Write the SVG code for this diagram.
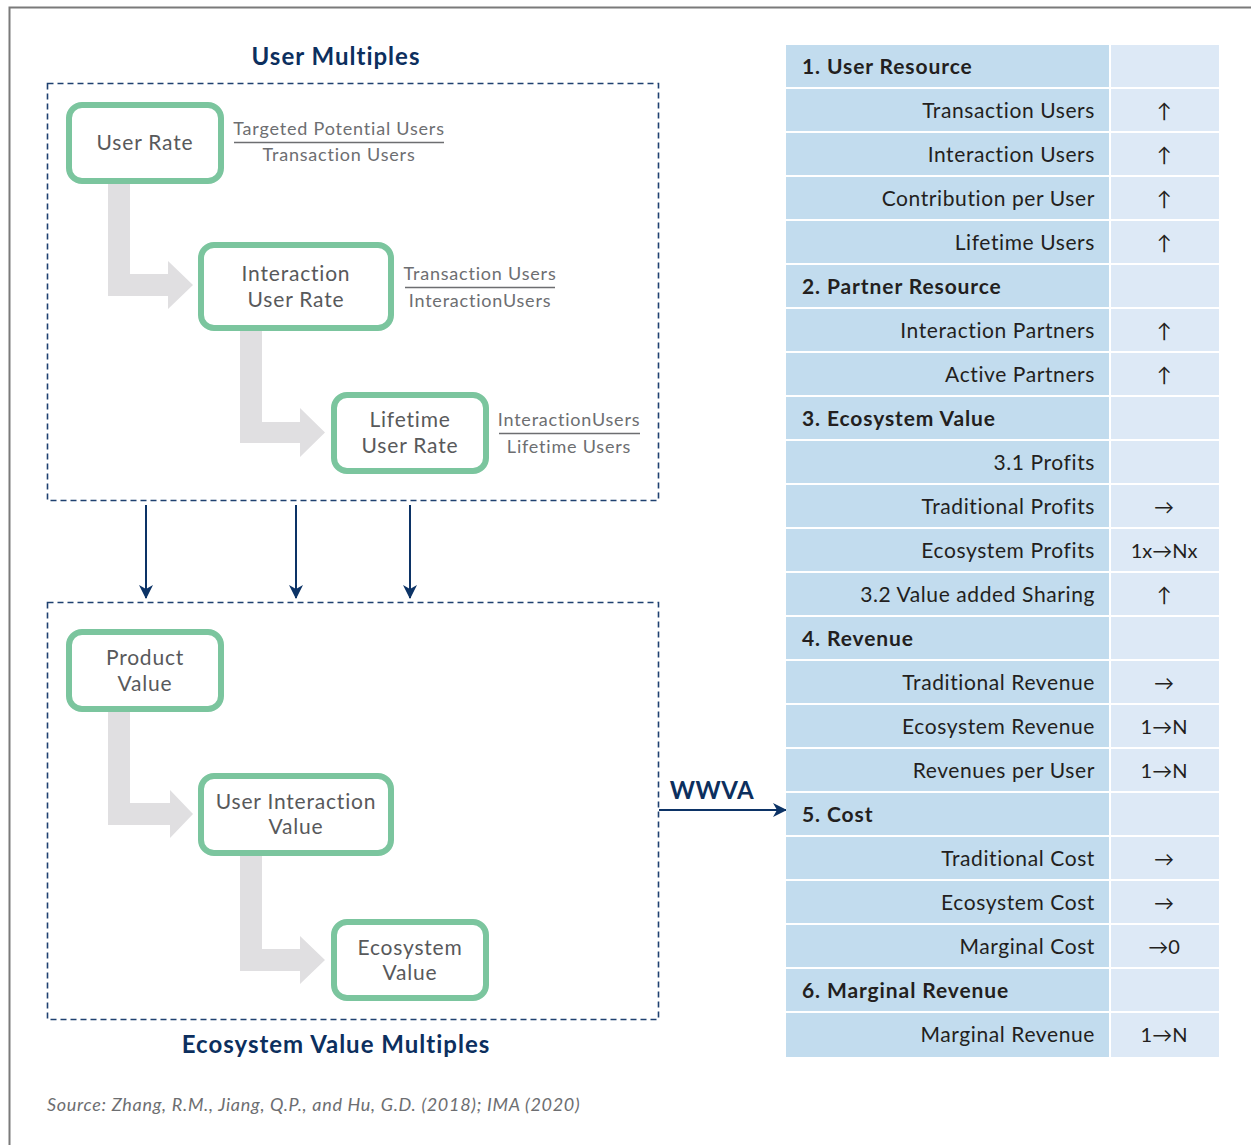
<svg xmlns="http://www.w3.org/2000/svg" width="1251" height="1145" viewBox="0 0 1251 1145">
  <style>
    .frame { fill: none; stroke: #7a7a7a; stroke-width: 2; }
    .zone { fill: none; stroke: #1f4170; stroke-width: 1.6; stroke-dasharray: 6 4; }
    .node { fill: #ffffff; stroke: #7bc59e; stroke-width: 6; }
    .ntext { font-family: Lato, "Liberation Sans", sans-serif; font-size: 21px; fill: #58595b; text-anchor: middle; letter-spacing: 0.8px; }
    .frac { font-family: Lato, "Liberation Sans", sans-serif; font-size: 18px; fill: #6d6e71; text-anchor: middle; letter-spacing: 0.8px; }
    .fline { stroke: #6d6e71; stroke-width: 1.4; }
    .elbow { fill: #e0dfe1; }
    .title { font-family: Lato, "Liberation Sans", sans-serif; font-size: 24px; font-weight: bold; fill: #0c2f5e; text-anchor: middle; letter-spacing: 1px; }
    .link { stroke: #0c3366; stroke-width: 2; fill: none; }
    .cellL { fill: #c2dcee; }
    .cellR { fill: #dde9f6; }
    .head { font-family: Lato, "Liberation Sans", sans-serif; font-size: 21px; font-weight: bold; fill: #231f20; letter-spacing: 0.9px; }
    .item { font-family: Lato, "Liberation Sans", sans-serif; font-size: 21px; fill: #231f20; text-anchor: end; letter-spacing: 0.6px; }
    .val { font-family: Lato, "Liberation Sans", sans-serif; font-size: 20px; fill: #231f20; text-anchor: middle; }
    .src { font-family: Lato, "Liberation Sans", sans-serif; font-size: 18px; font-style: italic; fill: #6d6e71; letter-spacing: 0.7px; }
  </style>
  <defs>
    <marker id="navyHead" markerWidth="14" markerHeight="16" refX="13" refY="8" orient="auto" markerUnits="userSpaceOnUse">
      <path d="M0,1 L14,8 L0,15 L4,8 Z" fill="#0c3366"/>
    </marker>
  </defs>

  <rect width="1251" height="1145" fill="#ffffff"/>
  <!-- outer frame -->
  <path class="frame" d="M1251,7.5 H9.5 V1145"/>

  <!-- grouping zones -->
  <rect class="zone" x="47.5" y="83.5" width="611" height="417"/>
  <rect class="zone" x="47.5" y="602.5" width="611" height="417"/>
  <text class="title" x="336" y="65">User Multiples</text>
  <text class="title" x="336" y="1053">Ecosystem Value Multiples</text>

  <!-- gray elbow arrows -->
  <g id="elbows">
    <polygon class="elbow" points="108,184 130,184 130,274 168,274 168,261 193,285 168,309 168,296 108,296"/>
    <polygon class="elbow" points="240,331 262,331 262,422 300,422 300,408 325,432.5 300,457 300,443 240,443"/>
    <polygon class="elbow" points="108,712 130,712 130,803 170,803 170,790 193,814 170,838 170,825 108,825"/>
    <polygon class="elbow" points="240,856 262,856 262,949 300,949 300,936 325,960 300,984 300,971 240,971"/>
  </g>

  <!-- connectors -->
  <g id="connectors">
    <line class="link" x1="146" y1="505" x2="146" y2="598" marker-end="url(#navyHead)"/>
    <line class="link" x1="296" y1="505" x2="296" y2="598" marker-end="url(#navyHead)"/>
    <line class="link" x1="410" y1="505" x2="410" y2="598" marker-end="url(#navyHead)"/>
    <line class="link" x1="659" y1="810" x2="786" y2="810" marker-end="url(#navyHead)"/>
    <text class="title" x="712" y="799" style="letter-spacing:0.5px">WWVA</text>
  </g>

  <!-- user multiples nodes -->
  <g id="user-rate">
    <rect class="node" x="69" y="105" width="152" height="76" rx="13"/>
    <text class="ntext" x="145" y="150">User Rate</text>
  </g>
  <g id="interaction-user-rate">
    <rect class="node" x="201" y="245" width="190" height="83" rx="13"/>
    <text class="ntext" x="296" y="281">Interaction</text>
    <text class="ntext" x="296" y="307">User Rate</text>
  </g>
  <g id="lifetime-user-rate">
    <rect class="node" x="334" y="395" width="152" height="76" rx="13"/>
    <text class="ntext" x="410" y="427">Lifetime</text>
    <text class="ntext" x="410" y="453">User Rate</text>
  </g>

  <!-- ratio formulas -->
  <g id="ratios">
    <text class="frac" x="339" y="135">Targeted Potential Users</text>
    <line class="fline" x1="234" y1="142.5" x2="444" y2="142.5"/>
    <text class="frac" x="339" y="161">Transaction Users</text>
    <text class="frac" x="480" y="280">Transaction Users</text>
    <line class="fline" x1="405" y1="287.5" x2="555" y2="287.5"/>
    <text class="frac" x="480" y="307">InteractionUsers</text>
    <text class="frac" x="569" y="426">InteractionUsers</text>
    <line class="fline" x1="499" y1="433.5" x2="640" y2="433.5"/>
    <text class="frac" x="569" y="453">Lifetime Users</text>
  </g>

  <!-- ecosystem value nodes -->
  <g id="product-value">
    <rect class="node" x="69" y="632" width="152" height="77" rx="13"/>
    <text class="ntext" x="145" y="665">Product</text>
    <text class="ntext" x="145" y="691">Value</text>
  </g>
  <g id="user-interaction-value">
    <rect class="node" x="201" y="776" width="190" height="77" rx="13"/>
    <text class="ntext" x="296" y="809">User Interaction</text>
    <text class="ntext" x="296" y="834">Value</text>
  </g>
  <g id="ecosystem-value">
    <rect class="node" x="334" y="922" width="152" height="76" rx="13"/>
    <text class="ntext" x="410" y="955">Ecosystem</text>
    <text class="ntext" x="410" y="980">Value</text>
  </g>

  <!-- value table -->
  <g id="value-table">
    <g id="rows-bg">
      <rect class="cellL" x="786" y="45" width="323" height="42"/><rect class="cellR" x="1111" y="45" width="108" height="42"/>
      <rect class="cellL" x="786" y="89" width="323" height="42"/><rect class="cellR" x="1111" y="89" width="108" height="42"/>
      <rect class="cellL" x="786" y="133" width="323" height="42"/><rect class="cellR" x="1111" y="133" width="108" height="42"/>
      <rect class="cellL" x="786" y="177" width="323" height="42"/><rect class="cellR" x="1111" y="177" width="108" height="42"/>
      <rect class="cellL" x="786" y="221" width="323" height="42"/><rect class="cellR" x="1111" y="221" width="108" height="42"/>
      <rect class="cellL" x="786" y="265" width="323" height="42"/><rect class="cellR" x="1111" y="265" width="108" height="42"/>
      <rect class="cellL" x="786" y="309" width="323" height="42"/><rect class="cellR" x="1111" y="309" width="108" height="42"/>
      <rect class="cellL" x="786" y="353" width="323" height="42"/><rect class="cellR" x="1111" y="353" width="108" height="42"/>
      <rect class="cellL" x="786" y="397" width="323" height="42"/><rect class="cellR" x="1111" y="397" width="108" height="42"/>
      <rect class="cellL" x="786" y="441" width="323" height="42"/><rect class="cellR" x="1111" y="441" width="108" height="42"/>
      <rect class="cellL" x="786" y="485" width="323" height="42"/><rect class="cellR" x="1111" y="485" width="108" height="42"/>
      <rect class="cellL" x="786" y="529" width="323" height="42"/><rect class="cellR" x="1111" y="529" width="108" height="42"/>
      <rect class="cellL" x="786" y="573" width="323" height="42"/><rect class="cellR" x="1111" y="573" width="108" height="42"/>
      <rect class="cellL" x="786" y="617" width="323" height="42"/><rect class="cellR" x="1111" y="617" width="108" height="42"/>
      <rect class="cellL" x="786" y="661" width="323" height="42"/><rect class="cellR" x="1111" y="661" width="108" height="42"/>
      <rect class="cellL" x="786" y="705" width="323" height="42"/><rect class="cellR" x="1111" y="705" width="108" height="42"/>
      <rect class="cellL" x="786" y="749" width="323" height="42"/><rect class="cellR" x="1111" y="749" width="108" height="42"/>
      <rect class="cellL" x="786" y="793" width="323" height="42"/><rect class="cellR" x="1111" y="793" width="108" height="42"/>
      <rect class="cellL" x="786" y="837" width="323" height="42"/><rect class="cellR" x="1111" y="837" width="108" height="42"/>
      <rect class="cellL" x="786" y="881" width="323" height="42"/><rect class="cellR" x="1111" y="881" width="108" height="42"/>
      <rect class="cellL" x="786" y="925" width="323" height="42"/><rect class="cellR" x="1111" y="925" width="108" height="42"/>
      <rect class="cellL" x="786" y="969" width="323" height="42"/><rect class="cellR" x="1111" y="969" width="108" height="42"/>
      <rect class="cellL" x="786" y="1013" width="323" height="44"/><rect class="cellR" x="1111" y="1013" width="108" height="44"/>
    </g>
    <g id="rows-text">
      <text class="head" x="802" y="74">1. User Resource</text>
      <text class="item" x="1095" y="118">Transaction Users</text><text class="val" x="1164" y="118">↑</text>
      <text class="item" x="1095" y="162">Interaction Users</text><text class="val" x="1164" y="162">↑</text>
      <text class="item" x="1095" y="206">Contribution per User</text><text class="val" x="1164" y="206">↑</text>
      <text class="item" x="1095" y="250">Lifetime Users</text><text class="val" x="1164" y="250">↑</text>
      <text class="head" x="802" y="294">2. Partner Resource</text>
      <text class="item" x="1095" y="338">Interaction Partners</text><text class="val" x="1164" y="338">↑</text>
      <text class="item" x="1095" y="382">Active Partners</text><text class="val" x="1164" y="382">↑</text>
      <text class="head" x="802" y="426">3. Ecosystem Value</text>
      <text class="item" x="1095" y="470">3.1 Profits</text>
      <text class="item" x="1095" y="514">Traditional Profits</text><text class="val" x="1164" y="514">→</text>
      <text class="item" x="1095" y="558">Ecosystem Profits</text><text class="val" x="1164" y="558">1x→Nx</text>
      <text class="item" x="1095" y="602">3.2 Value added Sharing</text><text class="val" x="1164" y="602">↑</text>
      <text class="head" x="802" y="646">4. Revenue</text>
      <text class="item" x="1095" y="690">Traditional Revenue</text><text class="val" x="1164" y="690">→</text>
      <text class="item" x="1095" y="734">Ecosystem Revenue</text><text class="val" x="1164" y="734">1→N</text>
      <text class="item" x="1095" y="778">Revenues per User</text><text class="val" x="1164" y="778">1→N</text>
      <text class="head" x="802" y="822">5. Cost</text>
      <text class="item" x="1095" y="866">Traditional Cost</text><text class="val" x="1164" y="866">→</text>
      <text class="item" x="1095" y="910">Ecosystem Cost</text><text class="val" x="1164" y="910">→</text>
      <text class="item" x="1095" y="954">Marginal Cost</text><text class="val" x="1164" y="954">→0</text>
      <text class="head" x="802" y="998">6. Marginal Revenue</text>
      <text class="item" x="1095" y="1042">Marginal Revenue</text><text class="val" x="1164" y="1042">1→N</text>
    </g>
  </g>

  <text class="src" x="47" y="1111">Source: Zhang, R.M., Jiang, Q.P., and Hu, G.D. (2018); IMA (2020)</text>
</svg>
